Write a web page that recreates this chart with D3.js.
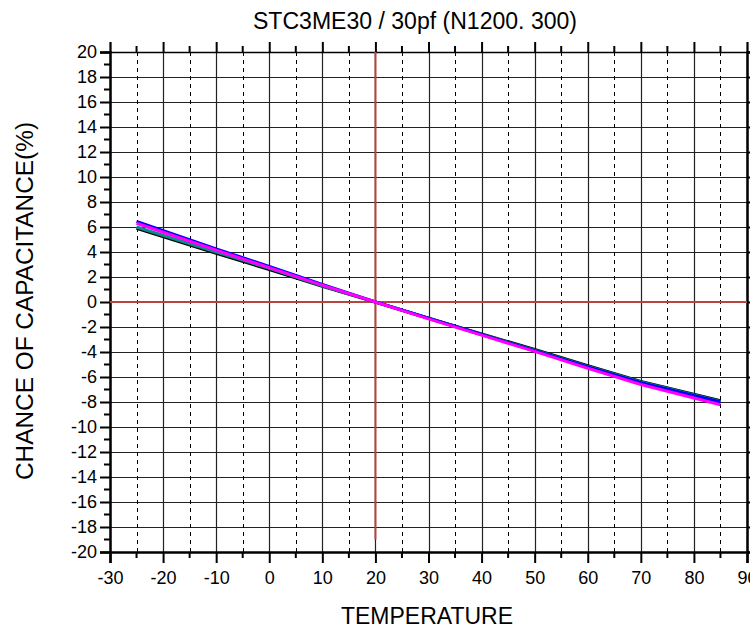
<!DOCTYPE html>
<html><head><meta charset="utf-8">
<script src="https://cdn.jsdelivr.net/npm/d3@7"></script>
<style>body{margin:0;background:#fff;}svg{display:block;font-family:"Liberation Sans",Arial,sans-serif;}</style>
</head><body><svg id="c" width="750" height="628"></svg>
<script>
const title = "STC3ME30 / 30pf (N1200. 300)";
const xLabel = "TEMPERATURE";
const yLabel = "CHANCE OF CAPACITANCE(%)";
const temps = [-25, -10, 0, 10, 20, 30, 40, 50, 60, 70, 85];
const blackVals = [5.9, 3.9, 2.6, 1.25, 0, -1.3, -2.55, -3.8, -5.1, -6.35, -7.9];
const tealVals = [6.0, 4.0, 2.7, 1.3, 0, -1.3, -2.6, -3.85, -5.15, -6.4, -7.95];
const blueVals = [6.45, 4.25, 2.85, 1.4, 0, -1.3, -2.6, -3.9, -5.2, -6.45, -8.0];
const magentaVals = [6.3, 4.15, 2.75, 1.35, 0, -1.35, -2.65, -3.95, -5.3, -6.6, -8.22];
const xTicks = d3.range(-30, 91, 10);
const xMinor = d3.range(-25, 90, 10);
const yTicks = d3.range(-20, 21, 2);
const yMinor = d3.range(-19, 20, 2);

const svg = d3.select("#c");
const L = 110, R = 747, T = 52, B = 552;
const x = d3.scaleLinear().domain([-30, 90]).range([L, R]);
const y = d3.scaleLinear().domain([-20, 20]).range([B, T]);
const g = svg.append("g");
const fmt = d => String(d);

// horizontal grid
g.selectAll(".hg").data(yTicks).join("line")
  .attr("x1", L).attr("x2", R).attr("y1", d => Math.round(y(d)) + 0.5).attr("y2", d => Math.round(y(d)) + 0.5)
  .attr("stroke", "#222").attr("stroke-width", 1.2);
// vertical grid solid
g.selectAll(".vg").data(xTicks).join("line")
  .attr("x1", d => Math.round(x(d)) + 0.5).attr("x2", d => Math.round(x(d)) + 0.5).attr("y1", T).attr("y2", B)
  .attr("stroke", "#222").attr("stroke-width", 1.2);
// vertical dashed
g.selectAll(".vd").data(xMinor).join("line")
  .attr("x1", d => Math.round(x(d)) + 0.5).attr("x2", d => Math.round(x(d)) + 0.5).attr("y1", T).attr("y2", B)
  .attr("stroke", "#000").attr("stroke-width", 1).attr("stroke-dasharray", "4,4");

// axes
const axB = d3.axisBottom(x).tickValues(xTicks).tickSize(11).tickFormat(fmt);
const gb = svg.append("g").attr("transform", `translate(0,${B})`).call(axB);
gb.append("g").selectAll("line").data(xMinor).join("line")
  .attr("x1", d => x(d)).attr("x2", d => x(d)).attr("y1", 0).attr("y2", 6).attr("stroke", "#000").attr("stroke-width", 2);
const axL = d3.axisLeft(y).tickValues(yTicks).tickSize(10).tickPadding(3).tickFormat(fmt);
const gl = svg.append("g").attr("transform", `translate(${L},0)`).call(axL);
gl.append("g").selectAll("line").data(yMinor).join("line")
  .attr("y1", d => y(d)).attr("y2", d => y(d)).attr("x1", 0).attr("x2", -6).attr("stroke", "#000").attr("stroke-width", 2);
const axT = d3.axisTop(x).tickValues(xTicks).tickSize(10).tickFormat("");
const gt = svg.append("g").attr("transform", `translate(0,${T})`).call(axT);
gt.append("g").selectAll("line").data(xMinor).join("line")
  .attr("x1", d => x(d)).attr("x2", d => x(d)).attr("y1", 0).attr("y2", -6).attr("stroke", "#000").attr("stroke-width", 2);
const axR = d3.axisRight(y).tickValues(yTicks).tickSize(10).tickFormat("");
svg.append("g").attr("transform", `translate(${R},0)`).call(axR);

svg.selectAll(".domain").attr("stroke", "#000").attr("stroke-width", 2.5);
svg.selectAll(".tick line").attr("stroke", "#000").attr("stroke-width", 2);
svg.selectAll(".tick text").attr("font-size", 18).attr("fill", "#000");
gb.selectAll(".tick text").attr("y", 32).attr("dy", 0);
gt.select(".domain").attr("stroke-width", 1.5);

// red reference lines
svg.append("line").attr("x1", x(-30)).attr("x2", x(90)).attr("y1", y(0)).attr("y2", y(0))
  .attr("stroke", "#b5453d").attr("stroke-width", 2);
svg.append("line").attr("x1", x(20)).attr("x2", x(20)).attr("y1", y(20)).attr("y2", y(-19))
  .attr("stroke", "#b5453d").attr("stroke-width", 2);

// series
const series = [
  {vals: blackVals, color: "#000000"},
  {vals: tealVals, color: "#0a8a8a"},
  {vals: blueVals, color: "#0000ff"},
  {vals: magentaVals, color: "#ff00ff"}
];
const line = d3.line().x(d => x(d[0])).y(d => y(d[1]));
series.forEach(s => {
  svg.append("path").datum(temps.map((t, i) => [t, s.vals[i]]))
    .attr("d", line).attr("fill", "none").attr("stroke", s.color).attr("stroke-width", 3);
});

// labels
svg.append("text").attr("x", 415).attr("y", 29).attr("text-anchor", "middle").attr("font-size", 23)
  .attr("textLength", 324).attr("lengthAdjust", "spacingAndGlyphs").text(title);
svg.append("text").attr("x", 427).attr("y", 624).attr("text-anchor", "middle").attr("font-size", 23)
  .attr("textLength", 172).attr("lengthAdjust", "spacingAndGlyphs").text(xLabel);
svg.append("text").attr("transform", "translate(33,301) rotate(-90)").attr("text-anchor", "middle").attr("font-size", 23)
  .attr("textLength", 358).attr("lengthAdjust", "spacingAndGlyphs").text(yLabel);
</script></body></html>
